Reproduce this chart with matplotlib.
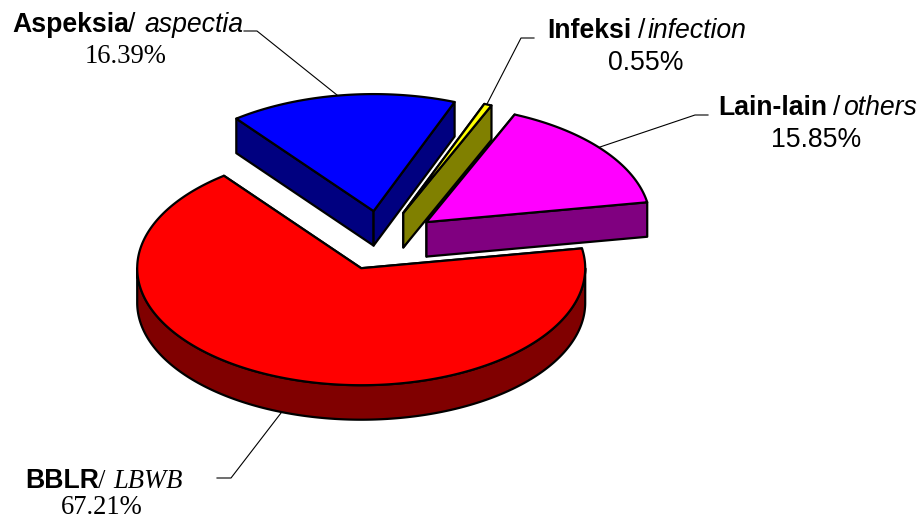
import numpy as np
import matplotlib
matplotlib.use("Agg")
import matplotlib.pyplot as plt

# data
names = ["Aspeksia", "Infeksi", "Lain-lain", "BBLR"]
values = [16.39, 0.55, 15.85, 67.21]
top_colors = ["#0000ff", "#ffff00", "#ff00ff", "#ff0000"]
side_colors = ["#000080", "#808000", "#800080", "#800000"]

# pie geometry, in pixels of the image
cx, cy = 381.8, 240.5
rx, ry = 224.0, 117.0
depth = 34.5
explode = 0.254
start_angle = 127.8

fig = plt.figure(figsize=(9.19, 5.2), dpi=100)
ax = fig.add_axes([0, 0, 1, 1])
ax.set_xlim(0, 919)
ax.set_ylim(520, 0)
ax.axis("off")


def arc(x0, y0, a1, a2):
    t = np.radians(np.linspace(a1, a2, max(2, int(abs(a2 - a1)) * 2)))
    return x0 + rx * np.cos(t), y0 - ry * np.sin(t)


def face(xs, ys, color):
    ax.fill(xs, ys, facecolor=color, edgecolor="black", linewidth=1.6, joinstyle="round")


#スライスを奥から順に描く
angle = start_angle
for value, top, side in zip(values, top_colors, side_colors):
    a1 = angle
    a2 = angle - value / sum(values) * 360
    mid = np.radians((a1 + a2) / 2)
    x0 = cx + explode * rx * np.cos(mid)
    y0 = cy - explode * ry * np.sin(mid)

    # cut faces
    for a in (a1, a2):
        ex = x0 + rx * np.cos(np.radians(a))
        ey = y0 - ry * np.sin(np.radians(a))
        face([x0, ex, ex, x0], [y0, ey, ey + depth, y0 + depth], side)

    # outer wall, only the part facing the viewer
    lo = max(a2, -180)
    hi = min(a1, 0)
    if hi > lo:
        wx, wy = arc(x0, y0, hi, lo)
        face(np.r_[wx, wx[::-1]], np.r_[wy, wy[::-1] + depth], side)

    # top
    ax_, ay_ = arc(x0, y0, a1, a2)
    face(np.r_[x0, ax_], np.r_[y0, ay_], top)
    angle = a2

# leader lines
ax.plot([244, 257, 337], [31, 31, 95], color="black", lw=0.8)
ax.plot([534, 521, 487], [38, 38, 104], color="black", lw=0.8)
ax.plot([708, 695, 600], [115, 115, 147], color="black", lw=0.8)
ax.plot([217, 231, 281], [478, 478, 413], color="black", lw=0.8)

SANS = "Liberation Sans"
SERIF = "Liberation Serif"
FS = 19.2

# labels
ax.text(12, 32, "Aspeksia", family=SANS, weight="bold", fontsize=FS)
ax.text(128, 32, "/", family=SANS, fontsize=FS)
ax.text(144, 32, "aspectia", family=SANS, style="italic", fontsize=FS)
ax.text(126, 63, "16.39%", family=SERIF, fontsize=FS, ha="center")

ax.text(547, 38, "Infeksi", family=SANS, weight="bold", fontsize=FS)
ax.text(638, 38, "/", family=SANS, fontsize=FS)
ax.text(648, 38, "infection", family=SANS, style="italic", fontsize=FS)
ax.text(646, 70, "0.55%", family=SANS, fontsize=FS, ha="center")

ax.text(718, 115, "Lain-lain", family=SANS, weight="bold", fontsize=FS)
ax.text(833, 115, "/", family=SANS, fontsize=FS)
ax.text(843, 115, "others", family=SANS, style="italic", fontsize=FS)
ax.text(816, 147, "15.85%", family=SANS, fontsize=FS, ha="center")

ax.text(25, 488, "BBLR", family=SANS, weight="bold", fontsize=FS)
ax.text(98, 488, "/", family=SERIF, fontsize=FS)
ax.text(113, 488, "LBWB", family=SERIF, style="italic", fontsize=FS)
ax.text(102, 514, "67.21%", family=SERIF, fontsize=FS, ha="center")

fig.savefig("out.png", dpi=100, facecolor="white")
